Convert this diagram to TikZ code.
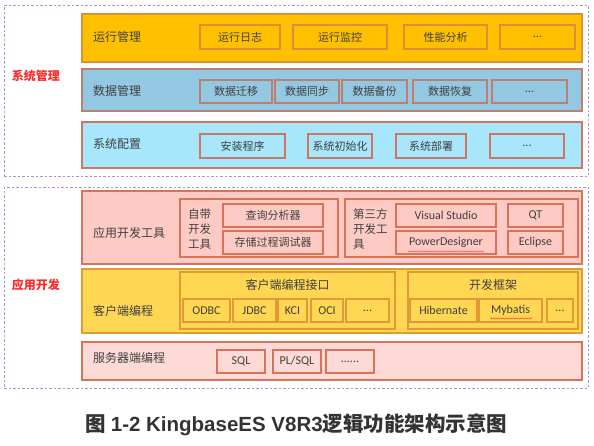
\documentclass[tikz,border=0pt]{standalone}
\usepackage{fontspec}
\setmainfont{Carlito}
\newfontfamily\cjk{Noto Sans CJK SC}
\newfontfamily\capfont{Liberation Sans}
\usetikzlibrary{decorations.pathmorphing}
\definecolor{txt}{HTML}{404040}
\definecolor{captxt}{HTML}{333333}
\definecolor{dashc}{HTML}{B48EDB}
\definecolor{redl}{HTML}{FF2A2A}
\definecolor{orfill}{HTML}{FFC000}
\definecolor{ordraw}{HTML}{D9903A}
\definecolor{blfill}{HTML}{93C8E3}
\definecolor{bldraw}{HTML}{BB8070}
\definecolor{cyfill}{HTML}{A7E6FB}
\definecolor{cydraw}{HTML}{CF7562}
\definecolor{pkfill}{HTML}{FDCBC3}
\definecolor{pkdraw}{HTML}{D8735B}
\definecolor{yefill}{HTML}{FFD752}
\definecolor{yedraw}{HTML}{E39A36}
\definecolor{lpfill}{HTML}{FDDAD5}
\tikzset{
  bx/.style={draw, inner sep=0pt, outer sep=0pt, line width=1.4pt, text=txt, font=\fontsize{12}{14}\selectfont},
  dashbox/.style={draw=dashc, dash pattern=on 2.5pt off 2pt, line width=1pt, inner sep=0pt, outer sep=0pt},
  rowlab/.style={anchor=west, inner sep=0pt, text=txt, font=\cjk\fontsize{12}{14}\selectfont},
  redlab/.style={inner sep=0pt, text=redl, font=\cjk\bfseries\fontsize{12}{14}\selectfont},
  r1/.style={bx, fill=orfill, draw=ordraw},
  r2/.style={bx, fill=blfill, draw=bldraw},
  r3/.style={bx, fill=cyfill, draw=cydraw},
  ra/.style={bx, fill=pkfill, draw=pkdraw},
  rb/.style={bx, fill=yefill, draw=yedraw},
  rc/.style={bx, fill=lpfill, draw=pkdraw},
  cj/.style={font=\cjk\fontsize{11}{13}\selectfont},
  squig/.style={draw=red!80, line width=0.4pt, decorate, decoration={snake, amplitude=0.6pt, segment length=2.5pt}},
}
\begin{document}
\begin{tikzpicture}[x=1pt,y=-1pt]
\useasboundingbox (0,0) rectangle (594,445);
% dashed groups
\node[dashbox, minimum width=584pt, minimum height=171pt] (g1) at (296,90.5) {};
\node[dashbox, minimum width=584pt, minimum height=201pt] (g2) at (296,287.5) {};
\node[redlab] (g1lab) at (36,76) {系统管理};
\node[redlab] (g2lab) at (36,285) {应用开发};
% row 1
\node[r1, minimum width=500pt, minimum height=48pt] (row1) at (332,38) {};
\node[rowlab] (row1lab) at (93,37) {运行管理};
\node[r1, cj, minimum width=80pt, minimum height=24pt] (a1) at (240,37) {运行日志};
\node[r1, cj, minimum width=94pt, minimum height=24pt] (a2) at (340,37) {运行监控};
\node[r1, cj, minimum width=83pt, minimum height=24pt] (a3) at (445.5,37) {性能分析};
\node[r1, minimum width=75pt, minimum height=24pt] (a4) at (537.5,37) {...};
% row 2
\node[r2, minimum width=500pt, minimum height=42pt] (row2) at (332,90) {};
\node[rowlab] (row2lab) at (93,91) {数据管理};
\node[r2, cj, minimum width=72pt, minimum height=23pt] (b1) at (236,91.5) {数据迁移};
\node[r2, cj, minimum width=64pt, minimum height=23pt] (b2) at (307,91.5) {数据同步};
\node[r2, cj, minimum width=65pt, minimum height=23pt] (b3) at (374.5,91.5) {数据备份};
\node[r2, cj, minimum width=74pt, minimum height=23pt] (b4) at (450,91.5) {数据恢复};
\node[r2, minimum width=75pt, minimum height=23pt] (b5) at (529.5,91.5) {...};
% row 3
\node[r3, minimum width=500pt, minimum height=46pt] (row3) at (332,145) {};
\node[rowlab] (row3lab) at (93,144) {系统配置};
\node[r3, cj, minimum width=85pt, minimum height=24pt] (c1) at (242.5,146) {安装程序};
\node[r3, cj, minimum width=64pt, minimum height=24pt] (c2) at (340,146) {系统初始化};
\node[r3, cj, minimum width=70pt, minimum height=24pt] (c3) at (431,146) {系统部署};
\node[r3, minimum width=74pt, minimum height=24pt] (c4) at (527,146) {...};
% row A
\node[ra, minimum width=500pt, minimum height=73pt] (rowA) at (332,227.5) {};
\node[rowlab] (rowAlab) at (93,233) {应用开发工具};
\node[ra, minimum width=158pt, minimum height=58pt] (self) at (259,228) {};
\node[anchor=west, align=left, inner sep=0pt, text=txt, font=\cjk\fontsize{11.5}{15}\selectfont] (selflab) at (188,229) {自带\\开发\\工具};
\node[ra, cj, minimum width=100pt, minimum height=23pt] (d1) at (273,215.5) {查询分析器};
\node[ra, cj, minimum width=100pt, minimum height=23pt] (d2) at (273,242.5) {存储过程调试器};
\node[ra, minimum width=233pt, minimum height=58pt] (third) at (461.5,228) {};
\node[anchor=west, align=left, inner sep=0pt, text=txt, font=\cjk\fontsize{11.5}{15}\selectfont] (thirdlab) at (353,229) {第三方\\开发工\\具};
\node[ra, minimum width=100pt, minimum height=23pt] (e1) at (446,215.5) {Visual Studio};
\node[ra, minimum width=100pt, minimum height=23pt] (e2) at (446,242.5) {PowerDesigner};
\node[ra, minimum width=55pt, minimum height=23pt] (e3) at (535.5,215.5) {QT};
\node[ra, minimum width=55pt, minimum height=23pt] (e4) at (535.5,242.5) {Eclipse};
\coordinate (sq1a) at (408,251.5);
\coordinate (sq1b) at (484,251.5);
\draw[squig] (sq1a) -- (sq1b);
% row B
\node[rb, minimum width=500pt, minimum height=64pt] (rowB) at (332,301) {};
\node[rowlab] (rowBlab) at (93,311) {客户端编程};
\node[rb, minimum width=215pt, minimum height=57pt] (api) at (287.5,300.5) {};
\node[inner sep=0pt, text=txt, font=\cjk\fontsize{12}{14}\selectfont] (apilab) at (287.5,285) {客户端编程接口};
\node[rb, minimum width=47pt, minimum height=23pt] (f1) at (206.5,310.5) {ODBC};
\node[rb, minimum width=43pt, minimum height=23pt] (f2) at (254.5,310.5) {JDBC};
\node[rb, minimum width=29pt, minimum height=23pt] (f3) at (292.5,310.5) {KCI};
\node[rb, minimum width=32pt, minimum height=23pt] (f4) at (327,310.5) {OCI};
\node[rb, minimum width=43pt, minimum height=23pt] (f5) at (367.5,310.5) {...};
\node[rb, minimum width=170pt, minimum height=57pt] (fw) at (493,300.5) {};
\node[inner sep=0pt, text=txt, font=\cjk\fontsize{12}{14}\selectfont] (fwlab) at (493,285) {开发框架};
\node[rb, minimum width=67pt, minimum height=23pt] (h1) at (443.5,310.5) {Hibernate};
\node[rb, minimum width=63pt, minimum height=23pt] (h2) at (510.5,310.5) {Mybatis};
\node[rb, minimum width=26pt, minimum height=23pt] (h3) at (560,310.5) {...};
\coordinate (sq2a) at (490,318.5);
\coordinate (sq2b) at (532,318.5);
\draw[squig] (sq2a) -- (sq2b);
% row C
\node[rc, minimum width=500pt, minimum height=38pt] (rowC) at (332,361) {};
\node[rowlab] (rowClab) at (93,358) {服务器端编程};
\node[rc, minimum width=48pt, minimum height=23pt] (k1) at (241,361.5) {SQL};
\node[rc, minimum width=48pt, minimum height=23pt] (k2) at (297,361.5) {PL/SQL};
\node[rc, minimum width=48pt, minimum height=23pt] (k3) at (350,361.5) {......};
% caption
\node[inner sep=0pt, text=captxt, font=\fontsize{20.5}{22}\selectfont] (caption) at (296.5,425) {{\cjk\bfseries 图} {\capfont\bfseries 1-2 KingbaseES V8R3}{\cjk\bfseries 逻辑功能架构示意图}};
\end{tikzpicture}
\end{document}
